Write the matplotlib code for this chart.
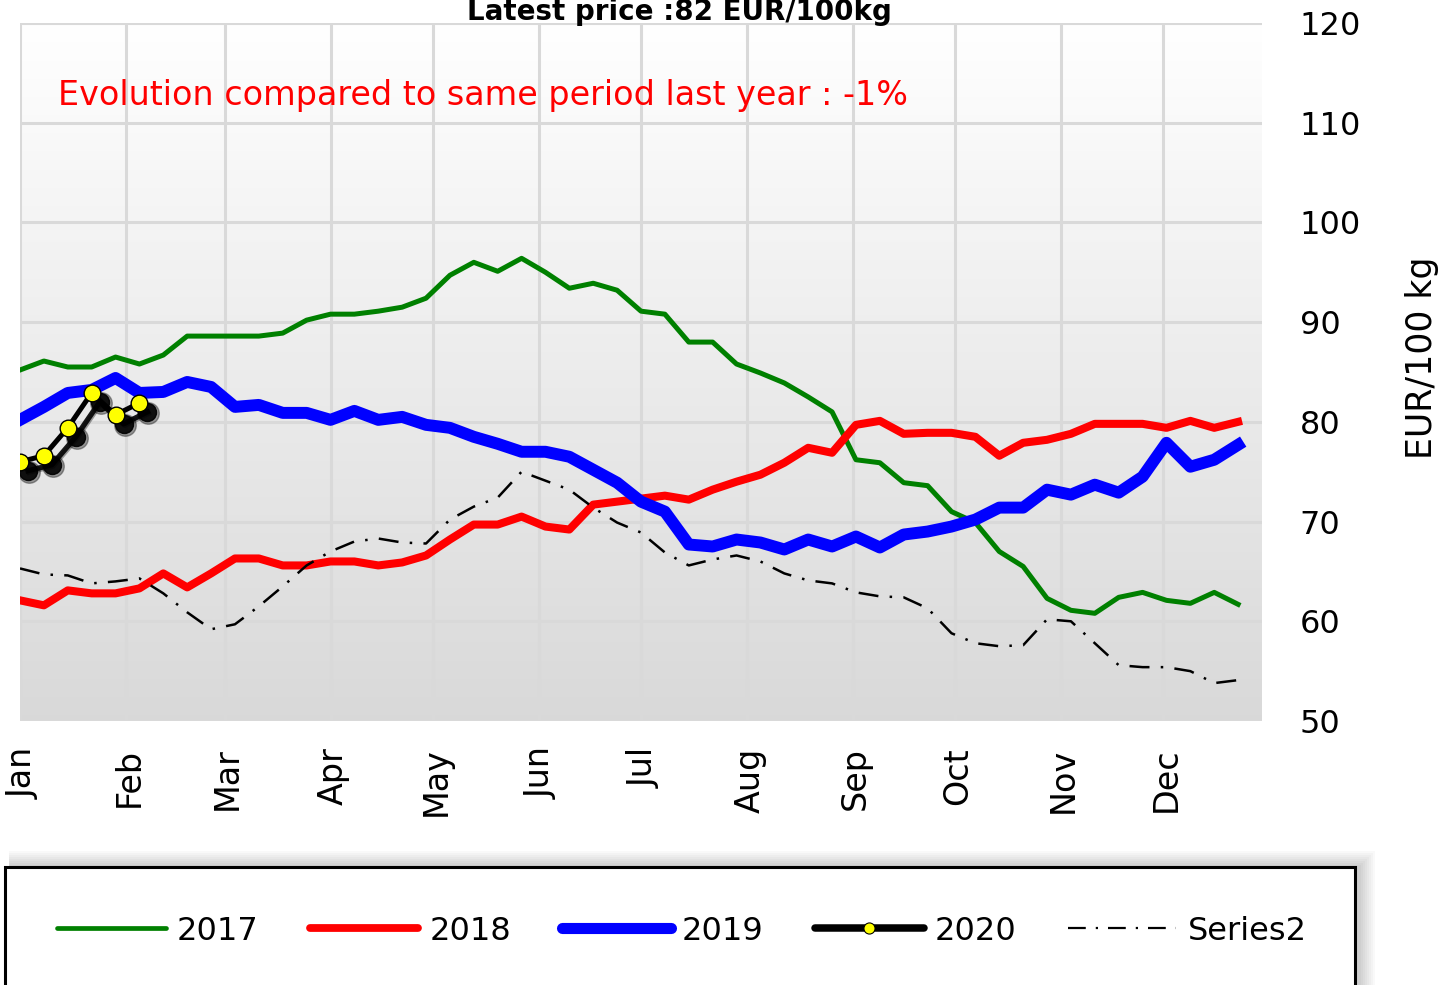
import numpy as np
import matplotlib
matplotlib.use("Agg")
import matplotlib.pyplot as plt
from matplotlib.lines import Line2D
from matplotlib.patches import Rectangle
from matplotlib import transforms

# ---------------- data ----------------
weeks = np.arange(52)
y2017 = [85.2, 86.1, 85.5, 85.5, 86.5, 85.8, 86.7, 88.6, 88.6, 88.6, 88.6, 88.9, 90.2,
         90.8, 90.8, 91.1, 91.5, 92.4, 94.7, 96.0, 95.1, 96.4, 95.0, 93.4, 93.9, 93.2,
         91.1, 90.8, 88.0, 88.0, 85.8, 84.9, 83.9, 82.5, 81.0, 76.2, 75.9, 73.9, 73.6,
         71.0, 69.9, 67.0, 65.5, 62.3, 61.1, 60.8, 62.4, 62.9, 62.1, 61.8, 62.9, 61.7]
y2018 = [62.1, 61.6, 63.1, 62.8, 62.8, 63.3, 64.8, 63.4, 64.8, 66.3, 66.3, 65.6, 65.6,
         66.0, 66.0, 65.6, 65.9, 66.6, 68.2, 69.7, 69.7, 70.5, 69.5, 69.2, 71.7, 72.0,
         72.3, 72.6, 72.2, 73.2, 74.0, 74.7, 75.9, 77.4, 76.9, 79.7, 80.1, 78.8, 78.9,
         78.9, 78.5, 76.6, 77.9, 78.2, 78.8, 79.8, 79.8, 79.8, 79.4, 80.1, 79.4, 80.0]
y2019 = [80.2, 81.5, 82.9, 83.2, 84.4, 82.9, 83.0, 84.0, 83.5, 81.5, 81.7, 80.9, 80.9,
         80.2, 81.1, 80.2, 80.5, 79.7, 79.4, 78.5, 77.8, 77.0, 77.0, 76.5, 75.2, 73.9,
         72.0, 71.0, 67.7, 67.5, 68.2, 67.9, 67.2, 68.2, 67.5, 68.5, 67.4, 68.7, 69.0,
         69.5, 70.2, 71.4, 71.4, 73.2, 72.7, 73.7, 72.9, 74.5, 77.9, 75.5, 76.2, 77.7]
y2020 = [76.0, 76.6, 79.4, 82.9, 80.7, 81.9]
series2 = [65.3, 64.7, 64.6, 63.8, 64.0, 64.3, 62.8, 60.9, 59.2, 59.7, 61.5, 63.5, 65.6,
           67.0, 68.0, 68.3, 67.9, 67.8, 70.2, 71.5, 72.4, 75.0, 74.1, 73.2, 71.4, 69.9,
           68.9, 66.9, 65.6, 66.2, 66.6, 66.0, 64.8, 64.1, 63.8, 62.9, 62.5, 62.4, 61.3,
           58.8, 57.8, 57.5, 57.6, 60.2, 60.0, 57.8, 55.6, 55.4, 55.4, 55.0, 53.8, 54.1]
month_labels = ["Jan", "Feb", "Mar", "Apr", "May", "Jun", "Jul", "Aug", "Sep", "Oct", "Nov", "Dec"]
month_start_doy = [0, 31, 60, 91, 121, 152, 182, 213, 244, 274, 305, 335]
y_ticks = [50, 60, 70, 80, 90, 100, 110, 120]
title_text = "Latest price :82 EUR/100kg"
note_text = "Evolution compared to same period last year : -1%"
ylabel_text = "EUR/100 kg"

# ---------------- figure ----------------
W, H = 1445, 985
fig = plt.figure(figsize=(W / 100, H / 100), dpi=100)
fig.patch.set_facecolor("white")
plt.rcParams["font.family"] = ["DejaVu Sans"]

left_px, right_px, top_px, bot_px = 20, 1262, 23, 721
ax = fig.add_axes([left_px / W, 1 - bot_px / H, (right_px - left_px) / W, (bot_px - top_px) / H])
ax.set_xlim(0, 52)
ax.set_ylim(50, 120)
ax.patch.set_visible(False)
for s in ax.spines.values():
    s.set_visible(False)

# gradient background
grad = np.linspace(0, 1, 256).reshape(-1, 1)
top_c = np.array([1.0, 1.0, 1.0])
bot_c = np.array([0.85, 0.85, 0.85])
img = top_c[None, None, :] * (1 - grad[:, :, None]) + bot_c[None, None, :] * grad[:, :, None]
ax.imshow(img, extent=(0, 52, 50, 120), origin="upper", aspect="auto", zorder=0)

# grid / ticks
xt = [d / 7 for d in month_start_doy]
ax.set_xticks(xt)
ax.set_xticklabels(month_labels, rotation=90, fontsize=24, va="top", ha="center")
ax.set_yticks(y_ticks)
ax.set_yticklabels([str(v) for v in y_ticks], fontsize=23)
ax.yaxis.tick_right()
ax.tick_params(axis="y", length=0, pad=27)
ax.tick_params(axis="x", length=0, pad=19)
offs = transforms.ScaledTranslation(3 / 100, 0, fig.dpi_scale_trans)
for lab in ax.get_xticklabels():
    lab.set_transform(lab.get_transform() + offs)
for v in xt:
    ax.axvline(v, color="#d9d9d9", lw=2.2, zorder=1)
for v in y_ticks:
    ax.axhline(v, color="#d9d9d9", lw=2.2, zorder=1)

# lines
ax.plot(weeks, y2017, color="#008000", lw=3.6, zorder=3, solid_joinstyle="round", label="2017")
ax.plot(weeks, y2018, color="#ff0000", lw=5.8, zorder=4, solid_joinstyle="round", label="2018")
ax.plot(weeks, y2019, color="#0000ff", lw=8.6, zorder=5, solid_joinstyle="round", label="2019")
ax.plot(weeks, series2, color="black", lw=1.8, dashes=(8, 4.5, 1, 4.5), zorder=6, label="Series2")

# 2020 with shadow
w20 = weeks[:len(y2020)]
for dx, dy, a, ms in [(6.5, -7.5, 0.35, 15.5), (5.8, -6.5, 0.9, 13)]:
    tr = transforms.offset_copy(ax.transData, fig=fig, x=dx, y=dy, units="points")
    ax.plot(w20, y2020, color="black", lw=3.8, marker="o", ms=ms, mfc="black", mec="black",
            alpha=a, transform=tr, zorder=7, solid_joinstyle="round")
ax.plot(w20, y2020, color="black", lw=3.6, marker="o", ms=12, mfc="#ffff00", mec="black",
        mew=1.0, zorder=8, solid_joinstyle="round", label="2020")

# texts
fig.text(58 / W, 1 - 95 / H, note_text, color="#ff0000", fontsize=24, va="center", ha="left")
fig.text(679 / W, 1 - 20 / H, title_text, fontsize=20, fontweight="bold", ha="center",
         va="baseline", zorder=10)
fig.text(1422 / W, 1 - 358 / H, ylabel_text, fontsize=25, rotation=90, ha="center", va="center")

# legend box with soft shadow
bx0, bx1, by0 = 5, 1355, 867
for i in range(8, 0, -1):
    fig.patches.append(Rectangle(((bx0 + 4) / W, -0.05), (bx1 - bx0 + 2 * i) / W, (H - by0 + 2 * i) / H + 0.05,
                                 transform=fig.transFigure, facecolor="#000000", alpha=0.025,
                                 edgecolor="none", zorder=0))
fig.patches.append(Rectangle((bx0 / W, -0.05), (bx1 - bx0) / W, (H - by0) / H + 0.05,
                             transform=fig.transFigure, facecolor="white", edgecolor="black",
                             lw=2.2, zorder=1))

h17 = Line2D([], [], color="#008000", lw=3.4, solid_capstyle="round")
h18 = Line2D([], [], color="#ff0000", lw=5.6, solid_capstyle="round")
h19 = Line2D([], [], color="#0000ff", lw=8.0, solid_capstyle="round")
h20 = Line2D([], [], color="black", lw=5.4, solid_capstyle="round", marker="o", ms=8,
             mfc="#ffff00", mec="black", mew=0.8)
hs2 = Line2D([], [], color="black", lw=1.6, dashes=(8, 4.5, 1, 4.5))
leg = fig.legend([h17, h18, h19, h20, hs2], ["2017", "2018", "2019", "2020", "Series2"],
                 loc="center left", bbox_to_anchor=(57 / W, 1 - 931 / H), ncol=5,
                 frameon=False, fontsize=23, handlelength=3.4, handletextpad=0.35,
                 columnspacing=1.6, borderpad=0, borderaxespad=0)
leg.set_zorder(5)

fig.savefig("out.png", dpi=100)
